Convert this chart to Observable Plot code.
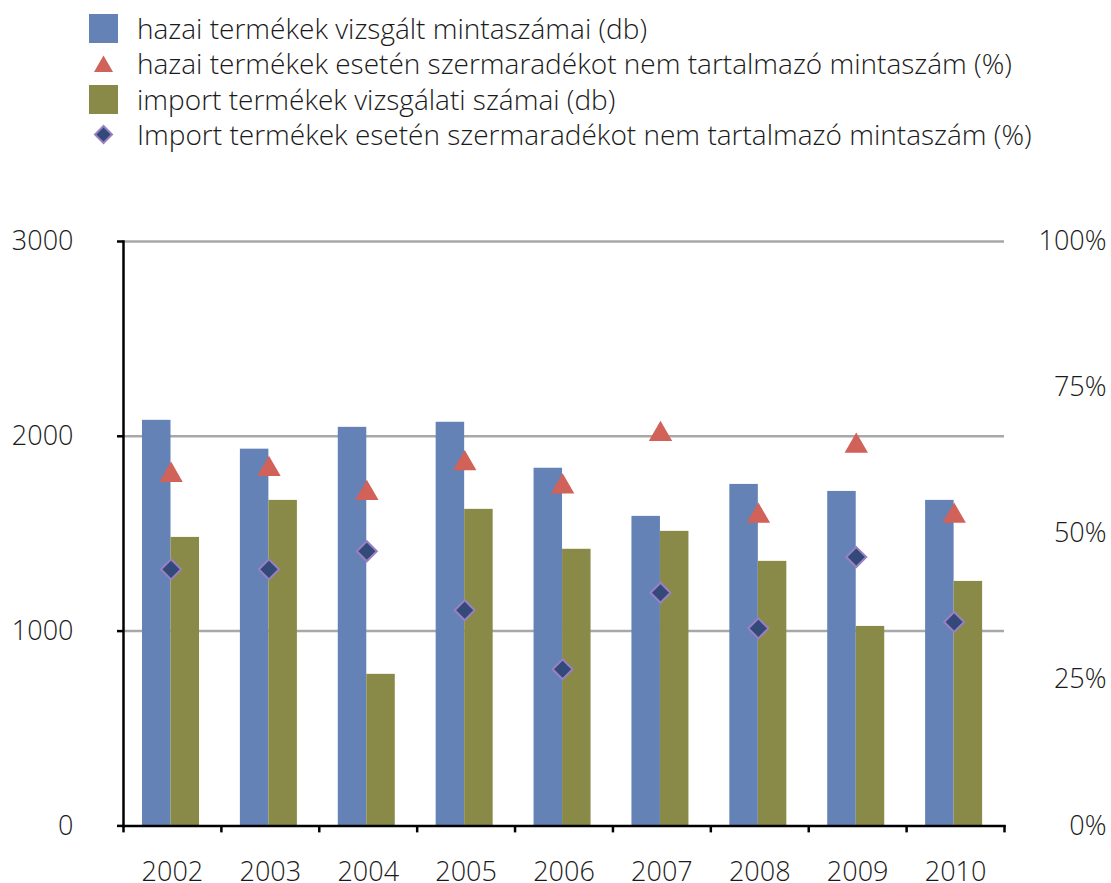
<!DOCTYPE html>
<html>
<head>
<meta charset="utf-8">
<script src="https://cdn.jsdelivr.net/npm/d3@7"></script>
<script src="https://cdn.jsdelivr.net/npm/@observablehq/plot@0.6"></script>
<style>
  html, body { margin: 0; padding: 0; background: #fff; width: 1111px; height: 883px; overflow: hidden; }
  body { font-family: "Open Sans", "Liberation Sans", Arial, sans-serif; font-weight: 300; color: #1a1a1a; position: relative; }
  #legend { position: absolute; left: 0; top: 10.5px; }
  .row { position: relative; height: 35.5px; width: 1100px; }
  .mk { position: absolute; left: 89px; top: 3px; width: 29px; height: 29px; }
  .mk svg { display: block; }
  .lab { position: absolute; left: 137px; top: 0; line-height: 35.5px; font-size: 28px; white-space: nowrap; }
  #chart { position: absolute; left: 0; top: 200px; }
  #chart text { font-weight: 300; }
</style>
</head>
<body>
<div id="legend"></div>
<div id="chart"></div>
<script>
// ---- data ----
const years = ["2002", "2003", "2004", "2005", "2006", "2007", "2008", "2009", "2010"];
const hazaiDb = [2082, 1934, 2046, 2072, 1836, 1589, 1753, 1717, 1671];
const importDb = [1481, 1671, 778, 1625, 1420, 1512, 1358, 1024, 1255];
const hazaiPct = [60.6, 61.6, 57.5, 62.6, 58.6, 67.6, 53.6, 65.6, 53.6];
const importPct = [43.9, 43.9, 47.0, 36.9, 26.8, 39.9, 33.8, 46.0, 34.9];
const leftTicks = [0, 1000, 2000, 3000];
const rightTicks = [0, 25, 50, 75, 100];
const seriesNames = [
  "hazai termékek vizsgált mintaszámai (db)",
  "hazai termékek esetén szermaradékot nem tartalmazó mintaszám (%)",
  "import termékek vizsgálati számai (db)",
  "Import termékek esetén szermaradékot nem tartalmazó mintaszám (%)"
];

const C_BLUE = "#6482b5", C_OLIVE = "#898a47", C_RED = "#d0625a", C_NAVY = "#33497a", C_PURPLE = "#9a80c2";
const yMax = 3000;
const pctToY = p => p / 100 * yMax;

const rows = years.map((y, i) => ({year: y, hazai: hazaiDb[i], imp: importDb[i], hp: hazaiPct[i], ip: importPct[i]}));

// ---- legend ----
const legend = document.getElementById("legend");
const markers = [
  `<div style="width:29px;height:29px;background:${C_BLUE}"></div>`,
  `<svg width="29" height="29"><polygon points="14.5,6.5 24,23 5,23" fill="${C_RED}"/></svg>`,
  `<div style="width:29px;height:29px;background:${C_OLIVE}"></div>`,
  `<svg width="29" height="29"><polygon points="14.5,6 23,14.5 14.5,23 6,14.5" fill="${C_NAVY}" stroke="${C_PURPLE}" stroke-width="2"/></svg>`
];
seriesNames.forEach((name, i) => {
  const r = document.createElement("div");
  r.className = "row";
  r.innerHTML = `<div class="mk">${markers[i]}</div><div class="lab"></div>`;
  r.querySelector(".lab").textContent = name;
  legend.appendChild(r);
});

// ---- chart ----
const W = 1111, H = 683;
const mL = 123, mR = 107, mT = 41, mB = 57.6;
const bw = (W - mL - mR) / years.length;
const FONT = "'Open Sans', 'Liberation Sans', Arial, sans-serif";

const plot = Plot.plot({
  width: W,
  height: H,
  marginLeft: mL,
  marginRight: mR,
  marginTop: mT,
  marginBottom: mB,
  style: {fontFamily: FONT, fontSize: "27px", color: "#1a1a1a", background: "#fff", overflow: "visible"},
  x: {type: "band", domain: years, padding: 0, round: false, label: null},
  y: {domain: [0, yMax], label: null},
  marks: [
    Plot.ruleY(leftTicks.filter(d => d > 0), {stroke: "#a8a8a8", strokeWidth: 2.5}),
    Plot.barY(rows, {x: "year", y: "hazai", fill: C_BLUE, insetLeft: 19, insetRight: bw - 47.5}),
    Plot.barY(rows, {x: "year", y: "imp", fill: C_OLIVE, insetLeft: 47.5, insetRight: bw - 76}),
    Plot.dot(rows, {x: "year", y: d => pctToY(d.hp), symbol: "triangle", r: 8.7, fill: C_RED, stroke: "none", dx: -1.4, dy: 3.4}),
    Plot.dot(rows, {x: "year", y: d => pctToY(d.ip), symbol: "diamond2", r: 9, fill: C_NAVY, stroke: C_PURPLE, strokeWidth: 2, dx: -1.4}),
    Plot.frame({anchor: "left", stroke: "#000", strokeWidth: 2.5}),
    Plot.frame({anchor: "bottom", stroke: "#000", strokeWidth: 2.5}),
    Plot.axisY({ticks: leftTicks, tickSize: 6, tickPadding: 44, tickFormat: d => String(d), strokeWidth: 2.5, stroke: "#000", fill: "#1a1a1a", label: null}),
    Plot.axisY({anchor: "right", ticks: rightTicks.map(pctToY), tickSize: 0, tickPadding: 102, textAnchor: "end", tickFormat: d => Math.round(d / yMax * 100) + "%", fill: "#1a1a1a", label: null}),
    Plot.axisX({ticks: years, tickSize: 7, tickFormat: () => "", dx: -bw / 2, strokeWidth: 2.5, stroke: "#000", label: null}),
    Plot.axisX({ticks: years.slice(-1), tickSize: 7, tickFormat: () => "", dx: bw / 2, strokeWidth: 2.5, stroke: "#000", label: null}),
    Plot.axisX({ticks: years, tickSize: 0, tickPadding: 36, fill: "#1a1a1a", label: null})
  ]
});
document.getElementById("chart").appendChild(plot);
</script>
</body>
</html>
